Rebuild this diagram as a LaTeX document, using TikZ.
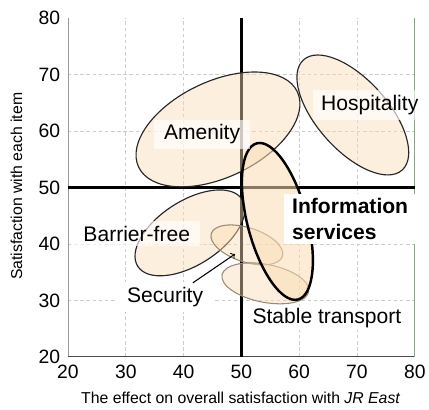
\documentclass[tikz,border=0pt]{standalone}
\usepackage{fontspec}
\setmainfont{Liberation Sans}
\definecolor{peach}{RGB}{250,220,180}
\definecolor{ringgray}{RGB}{150,138,120}
\definecolor{framegreen}{RGB}{140,160,140}

\begin{document}
\begin{tikzpicture}[x=0.11567cm, y=0.113cm,
  grid/.style={gray!40, dash pattern=on 2pt off 1.5pt, line width=0.35pt},
  quadline/.style={line width=1.6pt},
  blob/.style={draw=black!85, line width=0.65pt, fill=peach, fill opacity=0.45},
  faintblob/.style={blob, draw=ringgray, line width=0.6pt},
  infoblob/.style={blob, draw=black, line width=1.4pt, fill opacity=0.55},
  tag/.style={fill=white, fill opacity=0.65, text opacity=1, inner xsep=0.2cm, inner ysep=0.1cm, font=\fontsize{12}{14.4}\selectfont},
  tick/.style={font=\fontsize{11}{13}\selectfont},
  axistitle/.style={font=\fontsize{9}{11}\selectfont}]
% Parameters
\def\xmin{20}; \def\xmax{80};
\def\ymin{20}; \def\ymax{80};
\def\cut{50};

\useasboundingbox (8.24,10.62) rectangle (82.46,83.19);

% Grid
\foreach \v in {30,40,60,70} {
  \draw[grid] (\v,\ymin) -- (\v,\ymax);
  \draw[grid] (\xmin,\v) -- (\xmax,\v);
}

% Axes
\draw[gray!80] (\xmin,\ymin) -- (\xmin,\ymax);
\draw[black!70] (\xmin,\ymin) -- (\xmax,\ymin);
\draw[framegreen] (\xmax,\ymin) -- (\xmax,\ymax);
\draw[quadline] (\xmin,\cut) -- (\xmax,\cut);
\draw[quadline] (\cut,\ymin) -- (\cut,\ymax);

% Tick labels
\foreach \v in {20,30,...,80} {
  \node[tick, left=1pt] (yt\v) at (\xmin,\v) {\v};
  \node[tick, below=1pt] (xt\v) at (\v,\ymin) {\v};
}
\node[axistitle, rotate=90] (ytitle) at (11.1,50.2) {Satisfaction with each item};
\node[axistitle] (xtitle) at (49.9,12.8) {The effect on overall satisfaction with \textit{JR East}};

% Items
\draw[blob, rotate around={25.4:(45.95,60.27)}] (45.95,60.27) ellipse [x radius=1.758cm, y radius=0.96cm];
\draw[blob, rotate around={-48.2:(69.28,62.83)}] (69.28,62.83) ellipse [x radius=1.48cm, y radius=0.708cm];
\draw[blob, rotate around={32.7:(41.10,41.95)}] (41.10,41.95) ellipse [x radius=1.24cm, y radius=0.64cm];
\draw[faintblob, rotate around={-17.8:(50.95,39.82)}] (50.95,39.82) ellipse [x radius=0.748cm, y radius=0.344cm];
\draw[faintblob, rotate around={-11:(54.15,33.01)}] (54.15,33.01) ellipse [x radius=0.884cm, y radius=0.38cm];
\draw[infoblob, rotate around={-75.2:(56.23,43.98)}] (56.23,43.98) ellipse [x radius=1.616cm, y radius=0.598cm];

% Labels
\node[tag] (amenity) at (43.2,59.4) {Amenity};
\node[tag, inner xsep=0.16cm] (hospitality) at (72.2,64.6) {Hospitality};
\node[tag] (barrier) at (31.9,41.8) {Barrier-free};
\node[tag, fill opacity=1] (security) at (36.8,30.6) {Security};
\node[tag, fill opacity=1, inner ysep=0.05cm] (stable) at (64.8,26.9) {Stable transport};
\node[tag, fill opacity=1, anchor=west, align=left, inner xsep=0.16cm, font=\fontsize{12}{14.4}\selectfont\bfseries] (info) at (57.35,44.4) {Information\\services};

% Pointer
\coordinate (secfoot) at (41.6,33.1);
\coordinate (sectip) at (48.9,38.2);
\draw[->, line width=0.6pt] (secfoot) -- (sectip);
\end{tikzpicture}
\end{document}
